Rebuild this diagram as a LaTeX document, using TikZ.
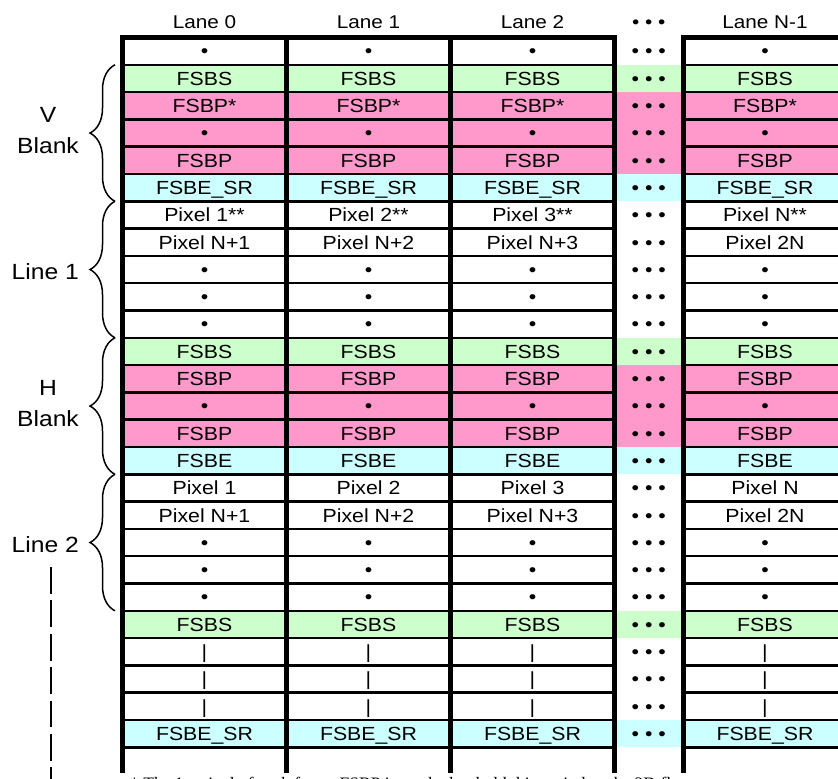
\documentclass[tikz,border=0pt]{standalone}
\usepackage{fontspec}
\setmainfont{Liberation Sans}[FakeStretch=1.12]
\newfontfamily\notefont{Liberation Serif}
\usetikzlibrary{decorations.pathreplacing}
\definecolor{sbsgreen}{RGB}{204,255,204}
\definecolor{sbppink}{RGB}{255,153,204}
\definecolor{sbecyan}{RGB}{204,255,255}

\begin{document}
\begin{tikzpicture}[line join=miter,x=1pt,y=-1pt,
    lanebox/.style={line width=5pt},
    rowline/.style={line width=2.5pt},
    cell/.style={font=\fontsize{19}{20}\selectfont,anchor=base,inner sep=0pt},
    head/.style={font=\fontsize{18.5}{20}\selectfont,anchor=base,inner sep=0pt},
    side/.style={font=\fontsize{22}{31}\selectfont,align=center,anchor=east,inner sep=0pt},
    grpbrace/.style={decorate,decoration={brace,amplitude=25pt},line width=1.5pt}]
    \useasboundingbox (0,0) rectangle (838,779);
    % rows: number/colour/lane 0/lane 1/lane 2/lane N-1
    \foreach \r/\c/\a/\b/\d/\n in {1/white/•/•/•/•,
        2/sbsgreen/FSBS/FSBS/FSBS/FSBS,
        3/sbppink/FSBP*/FSBP*/FSBP*/FSBP*,
        4/sbppink/•/•/•/•,
        5/sbppink/FSBP/FSBP/FSBP/FSBP,
        6/sbecyan/FSBE\_SR/FSBE\_SR/FSBE\_SR/FSBE\_SR,
        7/white/Pixel 1**/Pixel 2**/Pixel 3**/Pixel N**,
        8/white/Pixel N+1/Pixel N+2/Pixel N+3/Pixel 2N,
        9/white/•/•/•/•,
        10/white/•/•/•/•,
        11/white/•/•/•/•,
        12/sbsgreen/FSBS/FSBS/FSBS/FSBS,
        13/sbppink/FSBP/FSBP/FSBP/FSBP,
        14/sbppink/•/•/•/•,
        15/sbppink/FSBP/FSBP/FSBP/FSBP,
        16/sbecyan/FSBE/FSBE/FSBE/FSBE,
        17/white/Pixel 1/Pixel 2/Pixel 3/Pixel N,
        18/white/Pixel N+1/Pixel N+2/Pixel N+3/Pixel 2N,
        19/white/•/•/•/•,
        20/white/•/•/•/•,
        21/white/•/•/•/•,
        22/sbsgreen/FSBS/FSBS/FSBS/FSBS,
        23/white/|/|/|/|,
        24/white/|/|/|/|,
        25/white/|/|/|/|,
        26/sbecyan/FSBE\_SR/FSBE\_SR/FSBE\_SR/FSBE\_SR,
        27/white/{}/{}/{}/{}}{
        \pgfmathsetmacro\yt{37.5+(\r-1)*27.3}
        \pgfmathsetmacro\yc{\yt+13.65+6.8}
        \fill[\c] (122.5,\yt) rectangle (847,\yt+27.3);
        \node[cell] (cell\r-0) at (204.5,\yc) {\a};
        \node[cell] (cell\r-1) at (368.5,\yc) {\b};
        \node[cell] (cell\r-2) at (532.5,\yc) {\d};
        \node[cell] (cell\r-n) at (765,\yc) {\n};
    }
    \foreach \r in {1,...,26}{
        \pgfmathsetmacro\yc{37.5+(\r-1)*27.3+13.65+6.8}
        \node[cell] (gap\r) at (648.75,\yc) {• • •};
    }
    \foreach \r in {1,...,26}{
        \pgfmathsetmacro\yb{37.5+\r*27.3}
        \draw[rowline] (122.5,\yb) -- (614.5,\yb) (683,\yb) -- (847,\yb);
    }
    \foreach \l in {122.5,286.5,450.5,683}
    \draw[lanebox] (\l,773) |- (\l+164,37.5) -- (\l+164,773);
    % lane titles
    \node[head] (lane0) at (204.5,28) {Lane 0};
    \node[head] (lane1) at (368.5,28) {Lane 1};
    \node[head] (lane2) at (532.5,28) {Lane 2};
    \node[head] (lanegap) at (648.75,28) {• • •};
    \node[head] (lanen) at (765,28) {Lane N-1};
    % groups on the left
    \draw[grpbrace] (115,201.3) -- (115,64.8);
    \draw[grpbrace] (115,337.8) -- (115,201.3);
    \draw[grpbrace] (115,474.3) -- (115,337.8);
    \draw[grpbrace] (115,610.8) -- (115,474.3);
    \node[side] (vblank) at (79,131) {V\\Blank};
    \node[side] (line1) at (79,272) {Line 1};
    \node[side] (hblank) at (79,404) {H\\Blank};
    \node[side] (line2) at (79,545) {Line 2};
    \draw[line width=1.5pt,dash pattern=on 26.7pt off 6.7pt] (51,567) -- (51,790);
    \node[font=\notefont\fontsize{17.5}{18}\selectfont,anchor=base west,inner sep=0pt] (note) at (130,789)
        {* The 1st pixel of each frame FSBP is marked to hold this period as the 2D flag};
\end{tikzpicture}
\end{document}
